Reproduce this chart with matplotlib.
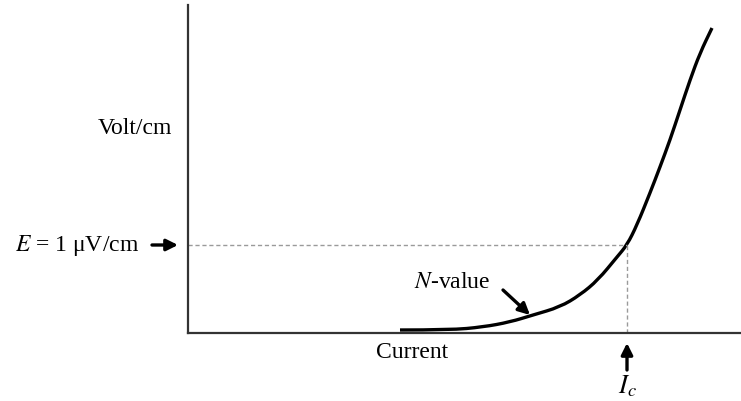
import matplotlib.pyplot as plt
from matplotlib.path import Path
from matplotlib.patches import PathPatch

# E-I curve of a superconductor, arbitrary units
current = [212, 262, 295, 322, 345, 372, 392, 410, 429, 439, 449, 462,
           472, 482, 492, 502, 512, 524]
voltage = [3, 3, 6, 11, 18, 26, 38, 53, 76, 88, 108, 140,
           166, 193, 223, 253, 280, 305]
ic_value = 439
e_criterion = 88

plt.rcParams['font.family'] = ['Liberation Serif', 'DejaVu Serif']
plt.rcParams['mathtext.fontset'] = 'stix'

fig = plt.figure(figsize=(7.41, 4.01), dpi=100)
ax = fig.add_axes([188 / 741, 68 / 401, 553 / 741, 328 / 401])
ax.set_xlim(0, 553)
ax.set_ylim(0, 328)

for side in ['top', 'right']:
    ax.spines[side].set_visible(False)
for side in ['left', 'bottom']:
    ax.spines[side].set_linewidth(1.6)
    ax.spines[side].set_color('#333333')
ax.set_xticks([])
ax.set_yticks([])

# smooth the curve: quadratic bezier segments between midpoints
pts = list(zip(current, voltage))
verts = [pts[0]]
codes = [Path.MOVETO]
for i in range(1, len(pts) - 1):
    mid = ((pts[i][0] + pts[i + 1][0]) / 2, (pts[i][1] + pts[i + 1][1]) / 2)
    verts += [pts[i], mid]
    codes += [Path.CURVE3, Path.CURVE3]
verts.append(pts[-1])
codes.append(Path.LINETO)
ax.add_patch(PathPatch(Path(verts, codes), fill=False, edgecolor='black',
                       lw=2.4, capstyle='butt'))

# criterion lines
ax.plot([0, ic_value], [e_criterion, e_criterion], color='#9a9a9a', lw=1, dashes=(3, 2))
ax.plot([ic_value, ic_value], [0, e_criterion], color='#9a9a9a', lw=1, dashes=(3, 2))

arrow = dict(arrowstyle='-|>', color='black', lw=2.4, mutation_scale=17,
             shrinkA=0, shrinkB=0)

ax.text(-53, 205, 'Volt/cm', ha='center', va='center', fontsize=17)
ax.text(-173, e_criterion, r'$E$ = 1 μV/cm', ha='left', va='center', fontsize=17)
ax.annotate('', xy=(-10, e_criterion), xytext=(-36, e_criterion),
            arrowprops=arrow, annotation_clip=False)

ax.text(264, 51, r'$N$-value', ha='center', va='center', fontsize=17)
ax.annotate('', xy=(342, 18), xytext=(315, 43), arrowprops=arrow)

ax.text(224, -20, 'Current', ha='center', va='center', fontsize=17)
ax.annotate('', xy=(ic_value, -10), xytext=(ic_value, -37),
            arrowprops=arrow, annotation_clip=False)
ax.text(ic_value, -53, r'$I_c$', ha='center', va='center', fontsize=19)

fig.savefig('out.png', dpi=100)
